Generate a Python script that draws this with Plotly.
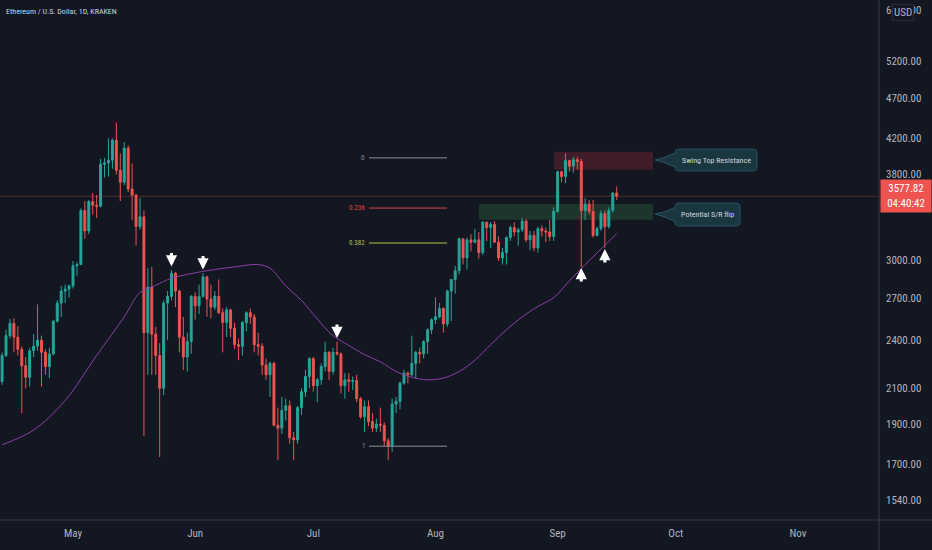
import numpy as np
import pandas as pd
import plotly.graph_objects as go

# ETH/USD daily candles, 13 Apr -> 16 Sep 2021
dates = pd.date_range("2021-04-13", "2021-09-16", freq="D")

open_ = [
    2140, 2300, 2430, 2515, 2420, 2340, 2235, 2165, 2330, 2360, 2400, 2320, 2230, 2310, 2530, 2660, 2750, 2765,
    2790, 2950, 2960, 3440, 3250, 3525, 3490, 3480, 3910, 3925, 3955, 4180, 3845, 3720, 4090, 3650, 3590, 3290,
    3380, 2450, 2780, 2440, 2300, 2100, 2660, 2710, 2890, 2750, 2420, 2290, 2390,
    2710, 2640, 2710, 2860, 2690, 2630, 2710, 2590, 2520, 2610, 2480, 2370, 2360, 2520, 2590, 2560, 2370, 2360,
    2240, 2180, 2250, 1895, 1880, 1975, 2000, 1830, 1820, 1990, 2080, 2170,
    2280, 2115, 2150, 2230, 2320, 2200, 2320, 2310, 2115, 2150, 2140, 2145, 2040, 1940, 1995, 1915, 1880, 1900,
    1895, 1815, 1790, 2010, 2025, 2130, 2190, 2180, 2250, 2320, 2310, 2390, 2470,
    2540, 2560, 2620, 2510, 2750, 2840, 2910, 3180, 3015, 3170, 3150, 3170, 3060, 3330, 3280, 3310, 3150, 3015,
    3060, 3190, 3280, 3240, 3260, 3340, 3170, 3210, 3100, 3270, 3250, 3240, 3200,
    3430, 3830, 3780, 3950, 3890, 3960, 3940, 3440, 3500, 3430, 3210, 3270, 3410, 3290, 3440, 3610,
]
high = [
    2320, 2470, 2545, 2550, 2495, 2360, 2290, 2350, 2440, 2650, 2430, 2340, 2350, 2540, 2680, 2790, 2800, 2800,
    2990, 2980, 3460, 3530, 3540, 3610, 3590, 3970, 3980, 4200, 4200, 4390, 4030, 4160, 4120, 3920, 3600, 3560,
    3440, 2930, 2940, 2490, 2380, 2680, 2750, 2915, 2900, 2760, 2560, 2450, 2720,
    2740, 2800, 2890, 2870, 2800, 2750, 2840, 2620, 2630, 2620, 2520, 2410, 2530, 2600, 2620, 2580, 2450, 2380,
    2280, 2260, 2260, 1990, 2050, 2040, 2030, 1860, 2000, 2100, 2210, 2290,
    2290, 2160, 2250, 2390, 2330, 2350, 2390, 2320, 2190, 2190, 2170, 2180, 2050, 2030, 2030, 1960, 1930, 1990,
    1910, 1830, 2040, 2050, 2140, 2210, 2200, 2430, 2330, 2350, 2400, 2480, 2550,
    2700, 2660, 2630, 2760, 2840, 2950, 3190, 3180, 3190, 3220, 3270, 3240, 3340, 3330, 3330, 3340, 3200, 3100,
    3200, 3300, 3330, 3280, 3370, 3360, 3250, 3250, 3290, 3300, 3280, 3350, 3470,
    3840, 3840, 4030, 3960, 3990, 3990, 3970, 3560, 3540, 3540, 3290, 3440, 3440, 3470, 3620, 3675,
]
low = [
    2120, 2290, 2410, 2320, 2300, 1960, 2100, 2110, 2290, 2330, 2110, 2180, 2160, 2300, 2520, 2560, 2660, 2700,
    2770, 2870, 2955, 3180, 3220, 3400, 3370, 3470, 3770, 3780, 3860, 3800, 3530, 3690, 3620, 3350, 3120, 3260,
    1840, 2180, 2180, 2180, 1735, 2060, 2400, 2680, 2630, 2320, 2210, 2200, 2310,
    2540, 2580, 2700, 2560, 2550, 2610, 2580, 2320, 2420, 2420, 2340, 2270, 2300, 2460, 2510, 2320, 2300, 2180,
    2150, 2050, 1890, 1720, 1850, 1920, 1800, 1720, 1800, 1950, 2050, 2100,
    2080, 2020, 2120, 2200, 2150, 2180, 2300, 2070, 2040, 2080, 2090, 2020, 1930, 1860, 1890, 1860, 1860, 1860,
    1790, 1720, 1760, 1960, 1980, 2120, 2130, 2170, 2160, 2250, 2280, 2310, 2440,
    2510, 2550, 2450, 2490, 2530, 2730, 2880, 2960, 2920, 3070, 3140, 3010, 3040, 3160, 3100, 3150, 2990, 2960,
    2960, 3160, 3200, 3120, 3240, 3150, 3080, 3070, 3060, 3200, 3150, 3160, 3160,
    3420, 3720, 3710, 3830, 3820, 3850, 2940, 3350, 3400, 3190, 3200, 3250, 3100, 3270, 3420, 3540,
]
close = [
    2300, 2430, 2515, 2420, 2340, 2235, 2165, 2330, 2360, 2400, 2320, 2230, 2310, 2530, 2660, 2750, 2765, 2790,
    2950, 2960, 3440, 3250, 3525, 3490, 3480, 3910, 3925, 3955, 4180, 3845, 3720, 4090, 3650, 3590, 3290, 3380,
    2450, 2780, 2440, 2300, 2100, 2660, 2710, 2890, 2750, 2420, 2290, 2390, 2710,
    2640, 2710, 2860, 2690, 2630, 2710, 2590, 2520, 2610, 2480, 2370, 2360, 2520, 2590, 2560, 2370, 2360, 2240,
    2180, 2250, 1895, 1880, 1975, 2000, 1830, 1820, 1990, 2080, 2170, 2280,
    2115, 2150, 2230, 2320, 2200, 2320, 2310, 2115, 2150, 2140, 2145, 2040, 1940, 1995, 1915, 1880, 1900, 1895,
    1815, 1790, 2010, 2025, 2130, 2190, 2180, 2250, 2320, 2310, 2390, 2470, 2540,
    2560, 2620, 2510, 2750, 2840, 2910, 3180, 3015, 3170, 3150, 3170, 3060, 3330, 3280, 3310, 3150, 3015, 3060,
    3190, 3280, 3240, 3260, 3340, 3170, 3210, 3100, 3270, 3250, 3240, 3200, 3430,
    3830, 3780, 3950, 3890, 3960, 3940, 3440, 3500, 3430, 3210, 3270, 3410, 3290, 3440, 3610, 3577.82,
]

# purple moving average, sampled along the line
ma_dates = ["2021-04-13", "2021-04-21", "2021-04-29", "2021-05-07", "2021-05-14", "2021-05-18", "2021-05-22",
            "2021-05-26", "2021-05-30", "2021-06-04", "2021-06-12", "2021-06-17", "2021-06-20", "2021-06-24",
            "2021-06-28", "2021-07-02", "2021-07-06", "2021-07-10", "2021-07-14", "2021-07-18", "2021-07-22",
            "2021-07-26", "2021-07-30", "2021-08-03", "2021-08-07", "2021-08-11", "2021-08-15", "2021-08-19",
            "2021-08-23", "2021-08-27", "2021-08-31", "2021-09-04", "2021-09-08", "2021-09-12", "2021-09-16"]
ma_values = [1795, 1870, 2030, 2300, 2560, 2740, 2795, 2850, 2880, 2910, 2945, 2960, 2930, 2790,
             2680, 2545, 2430, 2365, 2305, 2260, 2200, 2165, 2150, 2160, 2200, 2270, 2370, 2470,
             2560, 2635, 2700, 2830, 2960, 3090, 3225]

# fibonacci drawing
fib_levels = [0, 0.236, 0.382, 1]
fib_colors = ["#8a8d96", "#e0443f", "#b5c042", "#8a8d96"]
fib_top, fib_bottom = 3980, 1788

last_price = 3577.82
countdown = "04:40:42"
y_ticks = [1540, 1700, 1900, 2100, 2400, 2700, 3000, 3800, 4200, 4700, 5200, 6000]

down_arrow_days = ["2021-05-26", "2021-06-03", "2021-07-07"]
up_arrow_days = ["2021-09-07", "2021-09-13"]

BG = "#131722"
UP = "#26a69a"
DOWN = "#ef5350"
TXT = "#b2b5be"
FONT = "Liberation Sans Narrow, Roboto Condensed, Roboto, sans-serif"

W, H = 879, 520  # plot area in px


def px(x):
    return x / W


def py(y):
    return 1 - y / H


fig = go.Figure()

fig.add_trace(go.Candlestick(
    x=dates, open=open_, high=high, low=low, close=close,
    increasing=dict(line=dict(color=UP, width=1), fillcolor=UP),
    decreasing=dict(line=dict(color=DOWN, width=1), fillcolor=DOWN),
    whiskerwidth=0, hoverinfo="skip", showlegend=False,
))

fig.add_trace(go.Scatter(
    x=pd.to_datetime(ma_dates), y=ma_values, mode="lines",
    line=dict(color="#8e3fa6", width=1, shape="spline"),
    hoverinfo="skip", showlegend=False,
))

shapes = []
annotations = []

# zones
shapes.append(dict(type="rect", xref="x", yref="y", x0="2021-08-31 02:00", x1="2021-09-25 05:00",
                   y0=3850, y1=4048, fillcolor="rgba(242,54,69,0.2)", line=dict(width=0), layer="below"))
shapes.append(dict(type="rect", xref="x", yref="y", x0="2021-08-12 01:00", x1="2021-09-25 05:00",
                   y0=3352, y1=3503, fillcolor="rgba(76,175,80,0.2)", line=dict(width=0), layer="below"))

# current price line
shapes.append(dict(type="line", xref="paper", yref="y", x0=0, x1=1, y0=last_price, y1=last_price,
                   line=dict(color="rgba(239,83,80,0.28)", width=1), layer="below"))

# axis frame lines running into the margins
shapes.append(dict(type="line", xref="paper", yref="paper", x0=0, x1=932 / W, y0=0, y1=0,
                   line=dict(color="#363a45", width=1)))
shapes.append(dict(type="line", xref="paper", yref="paper", x0=1, x1=1, y0=-30 / H, y1=1,
                   line=dict(color="#363a45", width=1)))

# fib lines
for lvl, col in zip(fib_levels, fib_colors):
    price = fib_top - lvl * (fib_top - fib_bottom)
    shapes.append(dict(type="line", xref="x", yref="y", x0="2021-07-15 03:00", x1="2021-08-03 22:00",
                       y0=price, y1=price, line=dict(color=col, width=1)))
    annotations.append(dict(x="2021-07-15 03:00", y=np.log10(price), xref="x", yref="y",
                            text=("%g" % lvl), showarrow=False, xanchor="right", yanchor="middle", xshift=-2,
                            font=dict(size=7, color=col, family=FONT)))


# callouts: rounded box with a pointer on the left
def callout(x0, x1, y0, y1, tip_x, tip_y, text):
    r = 4
    ym = (y0 + y1) / 2
    pts = [
        ("M", [(x0 + r, y0)]),
        ("L", [(x1 - r, y0)]),
        ("Q", [(x1, y0), (x1, y0 + r)]),
        ("L", [(x1, y1 - r)]),
        ("Q", [(x1, y1), (x1 - r, y1)]),
        ("L", [(x0 + r, y1)]),
        ("Q", [(x0, y1), (x0, y1 - r)]),
        ("L", [(x0, ym + 7)]),
        ("Q", [(x0 - 10, ym + 2), (tip_x, tip_y)]),
        ("Q", [(x0 - 10, ym - 2), (x0, ym - 7)]),
        ("L", [(x0, y0 + r)]),
        ("Q", [(x0, y0), (x0 + r, y0)]),
    ]
    path = " ".join(c + " " + " ".join("%.5f,%.5f" % (px(a), py(b)) for a, b in p) for c, p in pts) + " Z"
    shapes.append(dict(type="path", xref="paper", yref="paper", path=path,
                       fillcolor="#1a3740", line=dict(color="#285461", width=1)))
    annotations.append(dict(x=px((x0 + x1) / 2), y=py(ym), xref="paper", yref="paper", text=text,
                            xanchor="center", yanchor="middle",
                            showarrow=False, font=dict(size=8, color="#d1d4dc", family=FONT)))


callout(675, 757, 149, 171, 655, 160, "Swing Top Resistance")
callout(675, 740, 203, 226, 655, 214, "Potential S/R flip")

# white arrows
d_idx = {d: i for i, d in enumerate(dates.strftime("%Y-%m-%d"))}
for d in down_arrow_days:
    annotations.append(dict(x=d, y=np.log10(high[d_idx[d]] * 1.01), xref="x", yref="y", text="",
                            showarrow=True, ax=0, ay=-15, arrowcolor="white", arrowwidth=3,
                            arrowhead=2, arrowsize=0.75))
for d in up_arrow_days:
    annotations.append(dict(x=d, y=np.log10(low[d_idx[d]] * 0.997), xref="x", yref="y", text="",
                            showarrow=True, ax=0, ay=15, arrowcolor="white", arrowwidth=3,
                            arrowhead=2, arrowsize=0.75))

# title
annotations.append(dict(x=px(4), y=py(11), xref="paper", yref="paper", text="Ethereum / U.S. Dollar, 1D, KRAKEN",
                        showarrow=False, xanchor="left", yanchor="middle",
                        font=dict(size=8, color="#d1d4dc", family=FONT)))

# last price label
annotations.append(dict(x=1, y=np.log10(last_price), xref="paper", yref="y", xanchor="left", yanchor="middle",
                        xshift=1, text="%.2f<br>%s" % (last_price, countdown), showarrow=False, bgcolor="#ef5350",
                        width=48, height=30, borderpad=1, align="center",
                        font=dict(size=11, color="white", family=FONT)))

# USD badge
annotations.append(dict(x=1, y=1, xref="paper", yref="paper", xanchor="left", yanchor="top", xshift=13, yshift=-4,
                        text="USD", showarrow=False, bgcolor=BG, bordercolor="#2a2e39", borderwidth=1,
                        font=dict(size=11, color=TXT, family=FONT)))

fig.update_layout(
    width=932, height=550,
    margin=dict(l=0, r=53, t=0, b=30),
    paper_bgcolor=BG, plot_bgcolor=BG,
    shapes=shapes, annotations=annotations,
    font=dict(family=FONT, color=TXT, size=11),
    xaxis=dict(
        type="date", range=["2021-04-12 11:17", "2021-11-21 13:40"],
        rangeslider=dict(visible=False), showgrid=False, zeroline=False,
        dtick="M1", tick0="2021-05-01", tickformat="%b", ticks="",
        showline=False, ticklabelstandoff=5, tickfont=dict(size=11, color=TXT),
    ),
    yaxis=dict(
        type="log", range=[3.1634, 3.7902], side="right",
        showgrid=False, zeroline=False, ticks="",
        tickvals=y_ticks, ticktext=["%.2f" % v for v in y_ticks],
        showline=False, ticklabelstandoff=6, tickfont=dict(size=11, color=TXT),
    ),
)

fig.write_html("out.html", config={"displayModeBar": False},
               post_script="document.body.style.margin='0';")
